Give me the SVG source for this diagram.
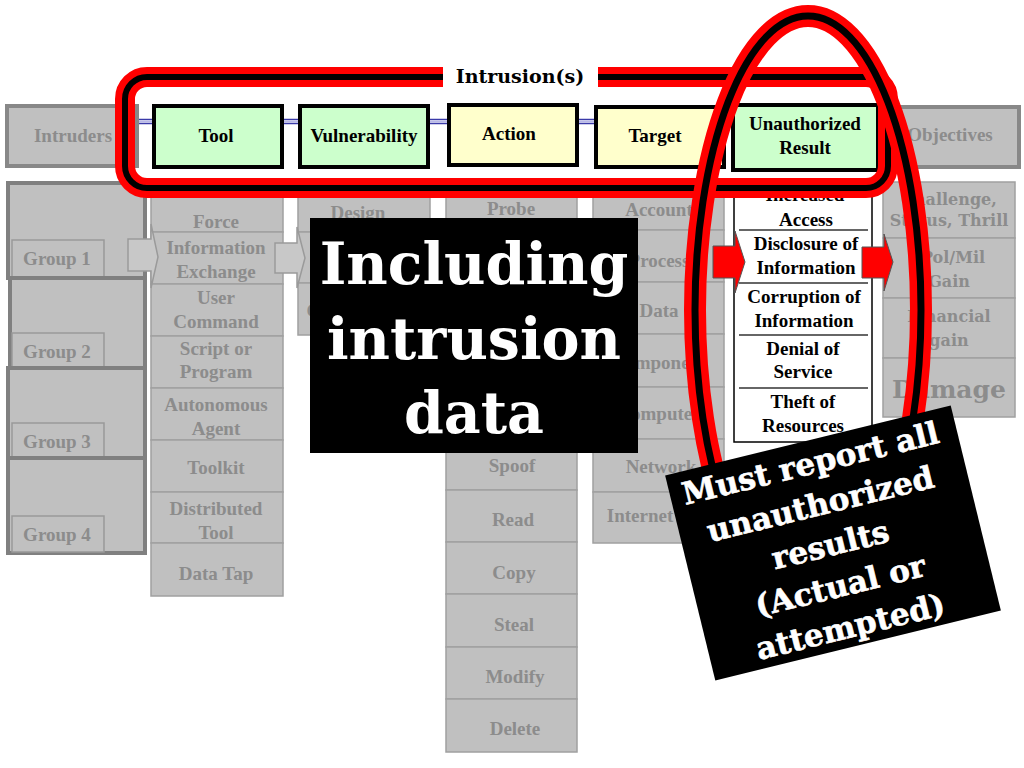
<svg xmlns="http://www.w3.org/2000/svg" width="1024" height="768" viewBox="0 0 1024 768">
<style>
.cell{fill:#c0c0c0;stroke:#a0a0a0;stroke-width:1.5}
.gt{font-family:"Liberation Serif",serif;font-weight:bold;font-size:19px;fill:#8c8c8c;text-anchor:middle}
.bt{font-family:"Liberation Serif",serif;font-weight:bold;font-size:19px;fill:#000;text-anchor:middle}
.ot{font-family:"DejaVu Serif",serif;font-weight:bold;font-size:16px;fill:#8c8c8c;text-anchor:middle}
.grp{fill:#c0c0c0;stroke:#808080;stroke-width:4}
.glab{fill:#c0c0c0;stroke:#999;stroke-width:1.5}
.hg{fill:#ccffcc;stroke:#000;stroke-width:4}
.hy{fill:#ffffcc;stroke:#000;stroke-width:4}
.hgrey{fill:#c0c0c0;stroke:#888;stroke-width:4}
.blue{stroke:#3a3aa8;stroke-width:1.5}
.bluem{stroke:#b8b8e8;stroke-width:1.5}
.chev{fill:#c8c8c8;stroke:#9a9a9a;stroke-width:1.5}
.redarrow{fill:#ff0000;stroke:#555;stroke-width:1}
.wt{font-family:"DejaVu Serif",serif;font-weight:bold;fill:#fff;text-anchor:middle}
</style>

<!-- Intruders column -->
<g id="intruders-groups">
<rect class="grp" x="8" y="183" width="137" height="95"/>
<rect class="glab" x="12" y="240" width="92" height="37"/>
<text class="gt" x="57" y="264.5">Group 1</text>
<rect class="grp" x="10" y="278" width="135" height="90"/>
<rect class="glab" x="12" y="333" width="92" height="35"/>
<text class="gt" x="57" y="357.5">Group 2</text>
<rect class="grp" x="8" y="368" width="137" height="90"/>
<rect class="glab" x="12" y="423" width="92" height="35"/>
<text class="gt" x="57" y="447.5">Group 3</text>
<rect class="grp" x="8" y="458" width="137" height="95"/>
<rect class="glab" x="12" y="516" width="92" height="36"/>
<text class="gt" x="57" y="540.5">Group 4</text>
</g>

<!-- Tool column -->
<g id="tool-column">
<rect class="cell" x="151" y="183" width="132" height="49"/>
<rect class="cell" x="151" y="232" width="132" height="52"/>
<rect class="cell" x="151" y="284" width="132" height="52"/>
<rect class="cell" x="151" y="336" width="132" height="52"/>
<rect class="cell" x="151" y="388" width="132" height="52"/>
<rect class="cell" x="151" y="440" width="132" height="52"/>
<rect class="cell" x="151" y="492" width="132" height="51"/>
<rect class="cell" x="151" y="543" width="132" height="53"/>
<text class="gt" x="216" y="227.5">Force</text>
<text class="gt" x="216" y="253.5">Information</text>
<text class="gt" x="216" y="277.5">Exchange</text>
<text class="gt" x="216" y="303.5">User</text>
<text class="gt" x="216" y="327.5">Command</text>
<text class="gt" x="216" y="354.5">Script or</text>
<text class="gt" x="216" y="377.5">Program</text>
<text class="gt" x="216" y="410.5">Autonomous</text>
<text class="gt" x="216" y="434.5">Agent</text>
<text class="gt" x="216" y="473.5">Toolkit</text>
<text class="gt" x="216" y="514.5">Distributed</text>
<text class="gt" x="216" y="538.5">Tool</text>
<text class="gt" x="216" y="579.5">Data Tap</text>
</g>

<!-- Vulnerability column -->
<g id="vulnerability-column">
<rect class="cell" x="298" y="183" width="132" height="49"/>
<rect class="cell" x="298" y="232" width="132" height="51"/>
<rect class="cell" x="298" y="283" width="132" height="52"/>
<text class="gt" x="358" y="218.5">Design</text>
<text class="gt" x="364" y="316.5">Configuration</text>
</g>

<!-- Action column -->
<g id="action-column">
<rect class="cell" x="446" y="182" width="131" height="48"/>
<rect class="cell" x="446" y="230" width="131" height="52"/>
<rect class="cell" x="446" y="282" width="131" height="52"/>
<rect class="cell" x="446" y="334" width="131" height="52"/>
<rect class="cell" x="446" y="386" width="131" height="52"/>
<rect class="cell" x="446" y="438" width="131" height="52"/>
<rect class="cell" x="446" y="490" width="131" height="52"/>
<rect class="cell" x="446" y="542" width="131" height="52"/>
<rect class="cell" x="446" y="594" width="131" height="53"/>
<rect class="cell" x="446" y="647" width="131" height="52"/>
<rect class="cell" x="446" y="699" width="131" height="53"/>
<text class="gt" x="511" y="214.5">Probe</text>
<text class="gt" x="512" y="471.5">Spoof</text>
<text class="gt" x="513" y="525.5">Read</text>
<text class="gt" x="514" y="578.5">Copy</text>
<text class="gt" x="514" y="630.5">Steal</text>
<text class="gt" x="515" y="682.5">Modify</text>
<text class="gt" x="515" y="734.5">Delete</text>
</g>

<!-- Target column -->
<g id="target-column">
<rect class="cell" x="593" y="182" width="131" height="48"/>
<rect class="cell" x="593" y="230" width="131" height="52"/>
<rect class="cell" x="593" y="282" width="131" height="52"/>
<rect class="cell" x="593" y="334" width="131" height="53"/>
<rect class="cell" x="593" y="387" width="131" height="52"/>
<rect class="cell" x="593" y="439" width="131" height="53"/>
<rect class="cell" x="593" y="492" width="131" height="51"/>
<text class="gt" x="659" y="215.5">Account</text>
<text class="gt" x="659" y="266.5">Process</text>
<text class="gt" x="659" y="316.5">Data</text>
<text class="gt" x="659" y="368.5">Component</text>
<text class="gt" x="659" y="419.5">Computer</text>
<text class="gt" x="661" y="472.5">Network</text>
<text class="gt" x="640" y="521.5">Internet</text>
</g>

<!-- Unauthorized Result column -->
<g id="result-column">
<rect x="734" y="182" width="138" height="260" fill="#fff" stroke="#000" stroke-width="1.5"/>
<g stroke="#333" stroke-width="1.5">
<line x1="739" y1="230" x2="868" y2="230"/>
<line x1="739" y1="283" x2="868" y2="283"/>
<line x1="739" y1="335" x2="868" y2="335"/>
<line x1="739" y1="388" x2="868" y2="388"/>
</g>
<text class="bt" x="805" y="201">Increased</text>
<text class="bt" x="806" y="225.5">Access</text>
<text class="bt" x="806" y="249.5">Disclosure of</text>
<text class="bt" x="806" y="273.5">Information</text>
<text class="bt" x="804" y="302.5">Corruption of</text>
<text class="bt" x="804" y="326.5">Information</text>
<text class="bt" x="803" y="354.5">Denial of</text>
<text class="bt" x="803" y="377.5">Service</text>
<text class="bt" x="803" y="407.5">Theft of</text>
<text class="bt" x="803" y="431.5">Resources</text>
</g>

<!-- Objectives column -->
<g id="objectives-column">
<rect class="cell" x="883" y="182" width="132" height="56"/>
<rect class="cell" x="883" y="238" width="132" height="60"/>
<rect class="cell" x="883" y="298" width="132" height="60"/>
<rect class="cell" x="883" y="358" width="132" height="59"/>
<text class="ot" x="949" y="205">Challenge,</text>
<text class="ot" x="949" y="226">Status, Thrill</text>
<text class="ot" x="953" y="263">Pol/Mil</text>
<text class="ot" x="949" y="287">Gain</text>
<text class="ot" x="949" y="322">Financial</text>
<text class="ot" x="949" y="346">gain</text>
<text class="ot" x="949" y="398" style="font-size:25px">Damage</text>
</g>

<!-- Connectors -->
<g id="connectors">
<g>
<line class="blue" x1="138" y1="119.5" x2="152" y2="119.5"/><line class="bluem" x1="138" y1="121.5" x2="152" y2="121.5"/><line class="blue" x1="138" y1="123.5" x2="152" y2="123.5"/>
<line class="blue" x1="283" y1="119.5" x2="298" y2="119.5"/><line class="bluem" x1="283" y1="121.5" x2="298" y2="121.5"/><line class="blue" x1="283" y1="123.5" x2="298" y2="123.5"/>
<line class="blue" x1="430" y1="119.5" x2="447" y2="119.5"/><line class="bluem" x1="430" y1="121.5" x2="447" y2="121.5"/><line class="blue" x1="430" y1="123.5" x2="447" y2="123.5"/>
<line class="blue" x1="577" y1="119.5" x2="594" y2="119.5"/><line class="bluem" x1="577" y1="121.5" x2="594" y2="121.5"/><line class="blue" x1="577" y1="123.5" x2="594" y2="123.5"/>
<line class="blue" x1="725" y1="119.5" x2="731" y2="119.5"/><line class="bluem" x1="725" y1="121.5" x2="731" y2="121.5"/><line class="blue" x1="725" y1="123.5" x2="731" y2="123.5"/>
<line class="blue" x1="879" y1="119.5" x2="886" y2="119.5"/><line class="bluem" x1="879" y1="121.5" x2="886" y2="121.5"/><line class="blue" x1="879" y1="123.5" x2="886" y2="123.5"/>
</g>
<polygon class="chev" points="128,239 151,239 151,224 158,257 151,288 151,271 128,271"/>
<polygon class="chev" points="275,243 297,243 297,227 305,258 297,288 297,273 275,273"/>
<polygon class="redarrow" points="713,246 735,246 735,231 745,262 735,293 735,278 713,278"/>
<polygon class="redarrow" points="862,247 884,247 884,234 893,262 884,291 884,278 862,278"/>
</g>

<!-- Header row -->
<g id="node-intruders"><rect class="hgrey" x="7" y="106" width="130" height="60"/><text class="gt" x="73" y="142">Intruders</text></g>
<g id="node-tool"><rect class="hg" x="154" y="106" width="128" height="61"/><text class="bt" x="216" y="141.5">Tool</text></g>
<g id="node-vulnerability"><rect class="hg" x="300" y="106" width="128" height="61"/><text class="bt" x="364" y="141.5">Vulnerability</text></g>
<g id="node-action"><rect class="hy" x="449" y="105" width="128" height="60"/><text class="bt" x="509" y="139.5">Action</text></g>
<g id="node-target"><rect class="hy" x="596" y="107" width="128" height="60"/><text class="bt" x="655" y="141.5">Target</text></g>
<g id="node-result"><rect class="hg" x="733" y="105" width="145" height="65"/><text class="bt" x="805" y="129.5">Unauthorized</text><text class="bt" x="805" y="153.5">Result</text></g>
<g id="node-objectives"><rect class="hgrey" x="887" y="107" width="132" height="60"/><text class="gt" x="950" y="141">Objectives</text></g>

<!-- Intrusion(s) loop -->
<g id="intrusion-loop">
<rect x="125" y="77" width="763" height="111" rx="22" fill="none" stroke="#ff0000" stroke-width="20"/>
<rect x="125" y="77" width="763" height="111" rx="22" fill="none" stroke="#000" stroke-width="6"/>
<rect x="443" y="60" width="155" height="33" fill="#fff"/>
<text x="520" y="83" style="font-family:'DejaVu Serif',serif;font-weight:bold;font-size:19px;fill:#000;text-anchor:middle">Intrusion(s)</text>
</g>

<!-- Result ellipse -->
<g id="result-loop">
<ellipse cx="808" cy="310" rx="113" ry="294" fill="none" stroke="#ff0000" stroke-width="22"/>
<ellipse cx="808" cy="310" rx="113" ry="294" fill="none" stroke="#000" stroke-width="7"/>
</g>

<!-- Including intrusion data -->
<g id="note-including">
<rect x="310" y="218" width="328" height="235" fill="#000"/>
<text class="wt" x="474" y="284" font-size="57">Including</text>
<text class="wt" x="474" y="359" font-size="57">intrusion</text>
<text class="wt" x="474" y="433" font-size="57">data</text>
</g>

<!-- Must report note -->
<g id="note-report" transform="translate(833,543) rotate(-13.75)">
<rect x="-147" y="-105.5" width="294" height="211" fill="#000"/>
<g stroke="#fff" stroke-width="0.6">
<text class="wt" x="-3" y="-72" font-size="31">Must report all</text>
<text class="wt" x="-3" y="-30" font-size="31">unauthorized</text>
<text class="wt" x="-3" y="12" font-size="31">results</text>
<text class="wt" x="-3" y="54" font-size="31">(Actual or</text>
<text class="wt" x="-3" y="96" font-size="31">attempted)</text>
</g>
</g>
</svg>
